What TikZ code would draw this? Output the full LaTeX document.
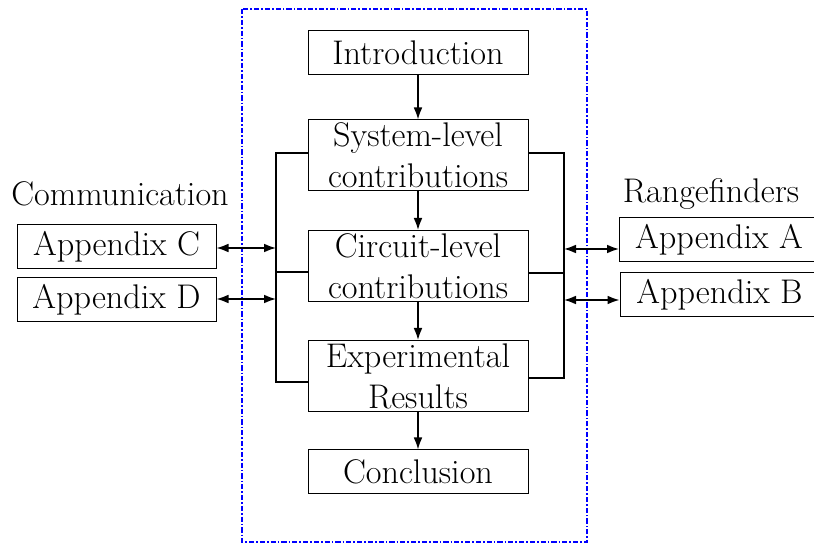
\documentclass[tikz,border=0pt]{standalone}
\usetikzlibrary{arrows.meta}
\begin{document}
\begin{tikzpicture}[x=0.5pt,y=-0.5pt,
  box/.style={draw,line width=0.5pt,minimum width=110pt,align=center,inner sep=0pt,
    font=\fontsize{17.1}{20.5}\selectfont},
  shortbox/.style={box,minimum height=22pt},
  tallbox/.style={box,minimum height=35.5pt},
  appbox/.style={draw,line width=0.5pt,minimum width=99.5pt,minimum height=22pt,inner sep=0pt,
    font=\fontsize{17.1}{20.5}\selectfont},
  lbl/.style={anchor=base,inner sep=0pt,font=\fontsize{17.1}{20.5}\selectfont},
  conn/.style={line width=0.8pt},
  arr/.style={conn,-{Latex[length=6pt,width=4.4pt]}},
  darr/.style={conn,{Latex[length=6pt,width=4.4pt]}-{Latex[length=6pt,width=4.4pt]}},
  frame/.style={draw=blue,line width=1.2pt,dash pattern=on 2.6pt off 1pt on 0.8pt off 1pt}]
\useasboundingbox (0,0) rectangle (814,544);
\draw[frame] (242,9) rectangle (587,542);
\node[shortbox] (intro) at (418,53) {Introduction};
\node[tallbox] (sys) at (418,155.5) {System-level\\contributions};
\node[tallbox] (circ) at (418,266) {Circuit-level\\contributions};
\node[tallbox] (exp) at (418,376) {Experimental\\Results};
\node[shortbox] (concl) at (418,472) {Conclusion};
\draw[arr] (intro) -- (sys);
\draw[arr] (sys) -- (circ);
\draw[arr] (circ) -- (exp);
\draw[arr] (exp) -- (concl);
% left bracket
\coordinate (lt) at (276,153);
\coordinate (lm) at (276,272);
\coordinate (lb) at (276,382);
\draw[conn] (sys.west |- lt) -- (lt) -- (lb) -- (exp.west |- lb);
\draw[conn] (lm) -- (circ.west |- lm);
% right bracket
\coordinate (rt) at (564,153);
\coordinate (rm) at (564,273);
\coordinate (rb) at (564,378);
\draw[conn] (sys.east |- rt) -- (rt) -- (rb) -- (exp.east |- rb);
\draw[conn] (rm) -- (circ.east |- rm);
% left appendices
\node[lbl] (comm) at (120,206) {Communication};
\node[appbox] (appc) at (116.5,247) {Appendix C};
\node[appbox] (appd) at (116.5,299.5) {Appendix D};
\coordinate (lc) at (276,248);
\coordinate (ld) at (276,299);
\draw[darr] (appc.east |- lc) -- (lc);
\draw[darr] (appd.east |- ld) -- (ld);
% right appendices
\node[lbl] (range) at (711,203) {Rangefinders};
\node[appbox,anchor=west] (appa) at (619,240) {Appendix A};
\node[appbox,anchor=west] (appb) at (619.5,294.5) {Appendix B};
\coordinate (ra) at (564,249);
\coordinate (rb2) at (564,300);
\draw[darr] (ra) -- (appa.west |- ra);
\draw[darr] (rb2) -- (appb.west |- rb2);
\end{tikzpicture}
\end{document}
